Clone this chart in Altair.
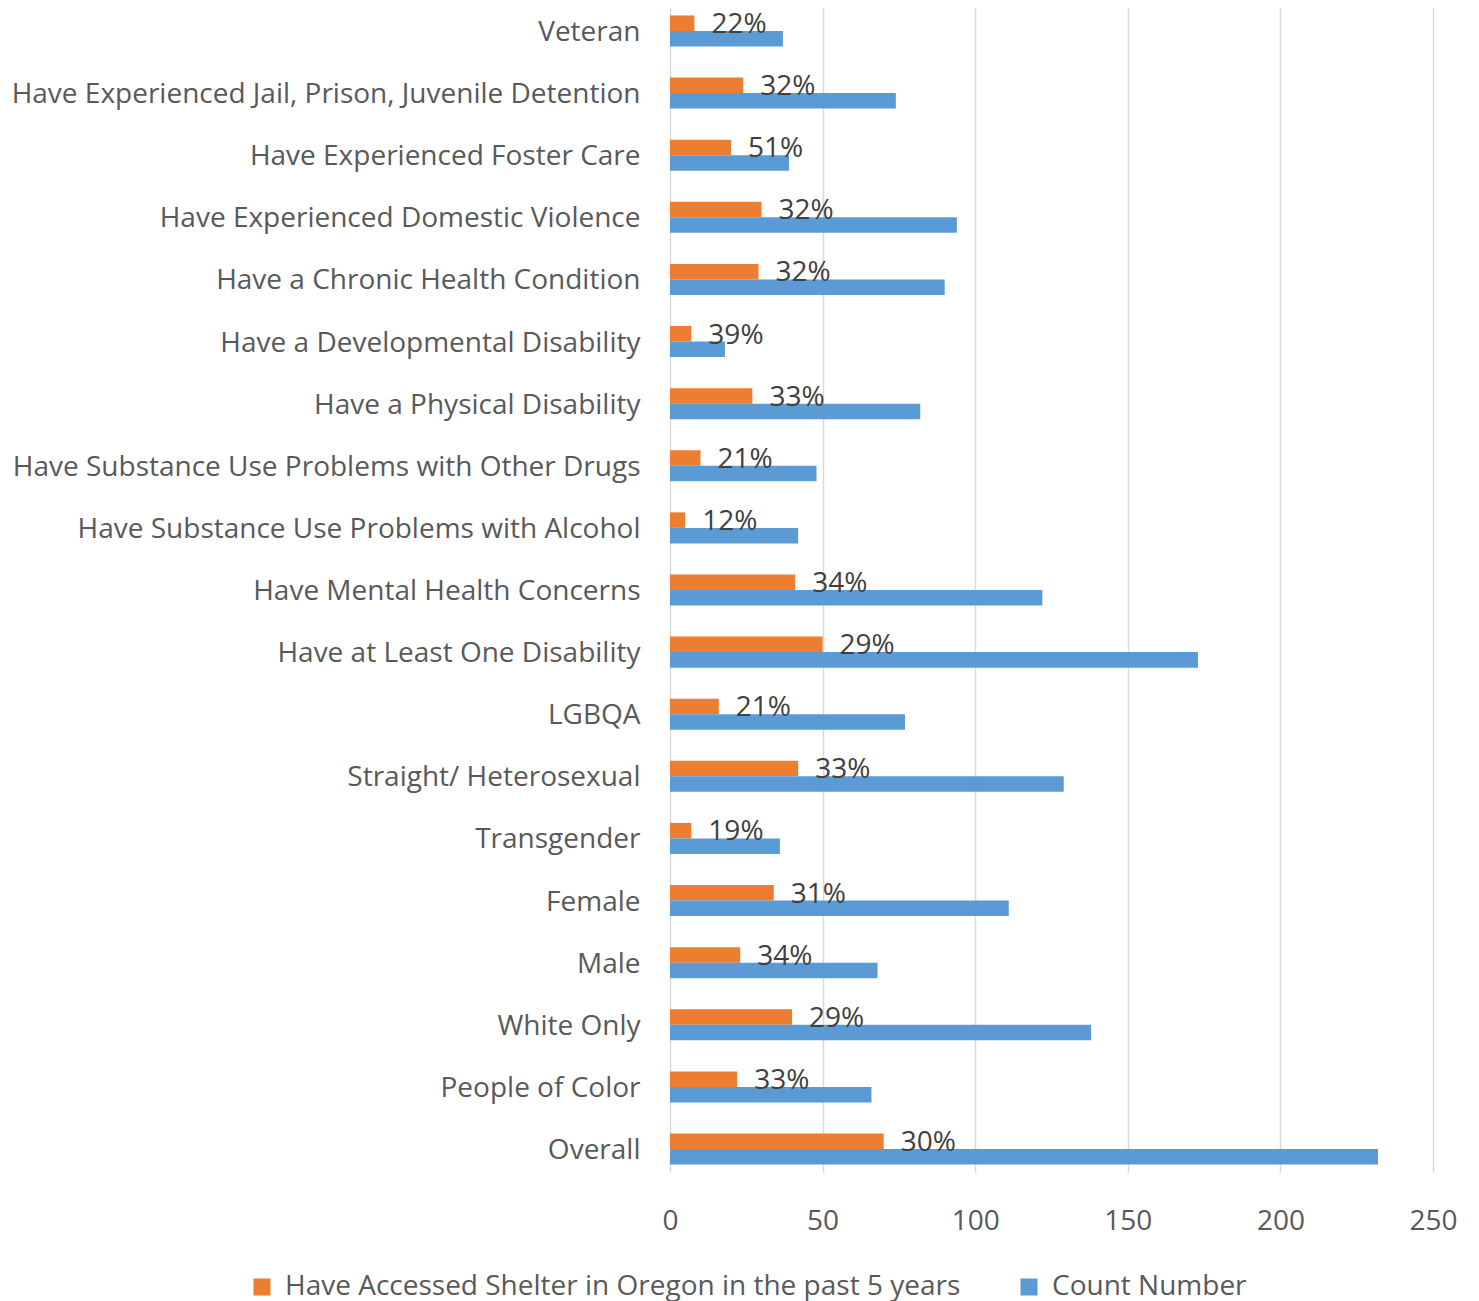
import altair as alt
import pandas as pd

categories = [
    "Veteran",
    "Have Experienced Jail, Prison, Juvenile Detention",
    "Have Experienced Foster Care",
    "Have Experienced Domestic Violence",
    "Have a Chronic Health Condition",
    "Have a Developmental Disability",
    "Have a Physical Disability",
    "Have Substance Use Problems with Other Drugs",
    "Have Substance Use Problems with Alcohol",
    "Have Mental Health Concerns",
    "Have at Least One Disability",
    "LGBQA",
    "Straight/ Heterosexual",
    "Transgender",
    "Female",
    "Male",
    "White Only",
    "People of Color",
    "Overall",
]
shelter = [8, 24, 20, 30, 29, 7, 27, 10, 5, 41, 50, 16, 42, 7, 34, 23, 40, 22, 70]
count = [37, 74, 39, 94, 90, 18, 82, 48, 42, 122, 173, 77, 129, 36, 111, 68, 138, 66, 232]
pct_labels = ["22%", "32%", "51%", "32%", "32%", "39%", "33%", "21%", "12%", "34%",
              "29%", "21%", "33%", "19%", "31%", "34%", "29%", "33%", "30%"]
x_ticks = [0, 50, 100, 150, 200, 250]

s_shelter = "Have Accessed Shelter in Oregon in the past 5 years"
s_count = "Count Number"
series_names = [s_shelter, s_count]
series_colors = ["#ED7D31", "#5B9BD5"]

rows = []
for c, a, b in zip(categories, shelter, count):
    rows.append({"category": c, "series": s_shelter, "value": a})
    rows.append({"category": c, "series": s_count, "value": b})
df = pd.DataFrame(rows)
df_lab = pd.DataFrame({"category": categories, "value": shelter, "label": pct_labels})

FONT = "Open Sans"
FS = 28

y_enc = alt.Y(
    "category:N",
    sort=categories,
    scale=alt.Scale(paddingInner=0.5, paddingOuter=0.12),
    axis=alt.Axis(
        title=None, ticks=False, domain=False, labelFontSize=FS, labelColor="#595959",
        labelFont=FONT, labelPadding=30, labelLimit=800, labelOffset=2,
    ),
)
x_enc = alt.X(
    "value:Q",
    scale=alt.Scale(domain=[0, 250], nice=False),
    axis=alt.Axis(
        title=None, values=x_ticks, ticks=False, domain=False, grid=True,
        gridColor="#d9d9d9", gridWidth=1.5, labelFontSize=FS, labelColor="#595959",
        labelFont=FONT, labelPadding=35, labelFlush=False,
    ),
)

bars = alt.Chart(df).mark_bar().encode(
    y=y_enc,
    x=x_enc,
    yOffset=alt.YOffset("series:N", sort=series_names),
    color=alt.Color(
        "series:N",
        scale=alt.Scale(domain=series_names, range=series_colors),
        legend=alt.Legend(
            title=None, orient="none", direction="horizontal", legendX=-422, legendY=1265,
            symbolType="square", symbolSize=289, symbolStrokeWidth=0, labelFontSize=FS,
            labelColor="#595959", labelFont=FONT, labelOffset=9, columnPadding=54,
            labelLimit=800,
        ),
    ),
)

labels = alt.Chart(df_lab).mark_text(
    align="left", baseline="middle", dx=17, dy=-6, fontSize=FS, font=FONT, color="#404040"
).encode(
    y=alt.Y("category:N", sort=categories),
    x=alt.X("value:Q"),
    text="label:N",
)

chart = alt.layer(bars, labels).properties(
    width=763,
    height=1164,
    background="white",
    autosize=alt.AutoSizeParams(type="none"),
    padding={"left": 662, "top": 0, "right": 30, "bottom": 135},
).configure_view(stroke="transparent", strokeWidth=0).configure_axis(domain=False)

chart.save("out.html", embed_options={"renderer": "svg", "actions": False})
